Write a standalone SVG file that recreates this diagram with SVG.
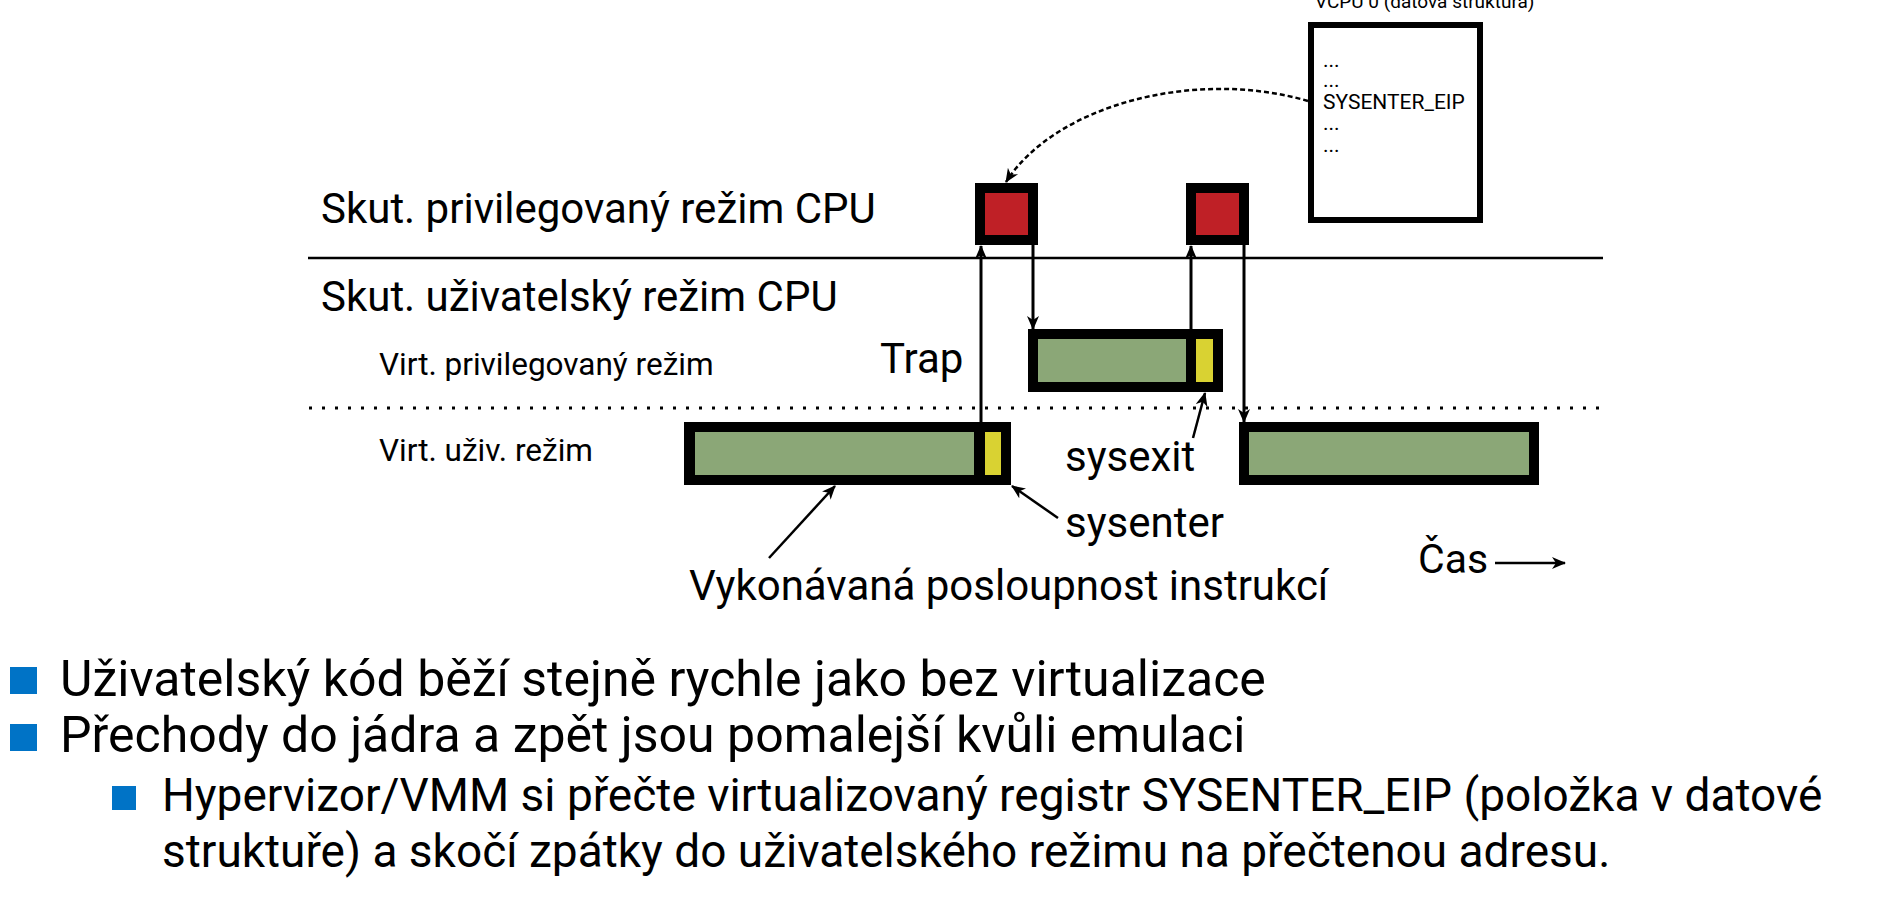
<svg xmlns="http://www.w3.org/2000/svg" width="1900" height="902" viewBox="0 0 1900 902">
<defs>
<style>
text{font-family:Roboto,"Liberation Sans",sans-serif;fill:#000}
.lbl{font-size:42px}
.sm{font-size:31.5px}
.tx{font-size:42px}
.bul{font-size:50px}
.sub{font-size:46px}
.box{font-size:21px}
.conn{stroke:#000;stroke-width:3;fill:none}
.thin{stroke:#000;stroke-width:2.5;fill:none}
.blk{fill:#000}
.grn{fill:#8ba777}
.yel{fill:#d9d232}
.red{fill:#bf2026}
.sq{fill:#0073c6}
</style>
<marker id="ah" viewBox="0 0 14 12" refX="13" refY="6" markerWidth="14" markerHeight="12" markerUnits="userSpaceOnUse" orient="auto">
<path d="M0,0 L14,6 L0,12 L4,6 z" fill="#000"/>
</marker>
</defs>
<rect width="1900" height="902" fill="#fff"/>

<g id="datastruct">
<text x="1315" y="8" style="font-size:19px">VCPU 0 (datová struktura)</text>
<rect x="1311" y="25" width="169" height="195" fill="#fff" stroke="#000" stroke-width="6"/>
<text class="box" x="1323" y="67">...</text>
<text class="box" x="1323" y="87">...</text>
<text class="box" x="1323" y="109">SYSENTER_EIP</text>
<text class="box" x="1323" y="130">...</text>
<text class="box" x="1323" y="152">...</text>
</g>

<g id="lines">
<line x1="308" y1="258" x2="1603" y2="258" stroke="#000" stroke-width="2.5"/>
<line x1="309" y1="408" x2="1608" y2="408" stroke="#000" stroke-width="3" stroke-dasharray="3 10"/>
</g>

<g id="labels">
<text class="lbl" x="321" y="223">Skut. privilegovaný režim CPU</text>
<text class="lbl" x="321" y="311">Skut. uživatelský režim CPU</text>
<text class="sm" x="379" y="375">Virt. privilegovaný režim</text>
<text class="sm" x="379" y="461">Virt. uživ. režim</text>
</g>

<g id="priv1">
<rect class="blk" x="975" y="183" width="63" height="62"/>
<rect class="red" x="985" y="193" width="43" height="42"/>
</g>
<g id="priv2">
<rect class="blk" x="1186" y="183" width="63" height="62"/>
<rect class="red" x="1196" y="193" width="43" height="42"/>
</g>
<g id="vpriv">
<rect class="blk" x="1028" y="329" width="195" height="63"/>
<rect class="grn" x="1038" y="339" width="148" height="43"/>
<rect class="yel" x="1196" y="339" width="17" height="43"/>
</g>
<g id="vuser1">
<rect class="blk" x="684" y="422" width="327" height="63"/>
<rect class="grn" x="695" y="432" width="279" height="43"/>
<rect class="yel" x="985" y="432" width="16" height="43"/>
</g>
<g id="vuser2">
<rect class="blk" x="1239" y="422" width="300" height="63"/>
<rect class="grn" x="1249" y="432" width="280" height="43"/>
</g>

<g id="connectors">
<path class="thin" d="M1308,101 C1195,68 1055,105 1006,182" stroke-dasharray="5 3" marker-end="url(#ah)"/>
<line class="conn" x1="981" y1="422" x2="981" y2="246" marker-end="url(#ah)"/>
<line class="conn" x1="1033" y1="245" x2="1033" y2="329" marker-end="url(#ah)"/>
<line class="conn" x1="1191" y1="329" x2="1191" y2="246" marker-end="url(#ah)"/>
<line class="conn" x1="1244" y1="245" x2="1244" y2="422" marker-end="url(#ah)"/>
<line class="thin" x1="1193" y1="438" x2="1205" y2="393" marker-end="url(#ah)"/>
<line class="thin" x1="1058" y1="518" x2="1012" y2="486" marker-end="url(#ah)"/>
<line class="thin" x1="769" y1="558" x2="835" y2="486" marker-end="url(#ah)"/>
<line class="thin" x1="1495" y1="563" x2="1565" y2="563" marker-end="url(#ah)"/>
</g>

<g id="annotations">
<text class="tx" x="880" y="373">Trap</text>
<text class="tx" x="1065" y="471">sysexit</text>
<text class="tx" x="1065" y="537">sysenter</text>
<text class="tx" x="689" y="600">Vykonávaná posloupnost instrukcí</text>
<text class="tx" x="1418" y="573" style="font-size:41px">Čas</text>
</g>

<g id="bullets">
<rect class="sq" x="10" y="667" width="27" height="27"/>
<text class="bul" x="60" y="696">Uživatelský kód běží stejně rychle jako bez virtualizace</text>
<rect class="sq" x="10" y="724" width="27" height="27"/>
<text class="bul" x="60" y="752">Přechody do jádra a zpět jsou pomalejší kvůli emulaci</text>
<rect class="sq" x="112" y="786" width="24" height="24"/>
<text class="sub" x="162" y="811">Hypervizor/VMM si přečte virtualizovaný registr SYSENTER_EIP (položka v datové</text>
<text class="sub" x="162" y="867">struktuře) a skočí zpátky do uživatelského režimu na přečtenou adresu.</text>
</g>
</svg>
